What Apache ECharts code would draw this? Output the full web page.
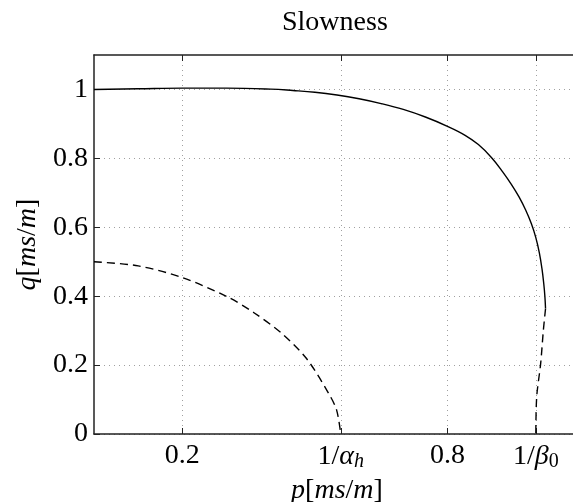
<!DOCTYPE html>
<html>
<head>
<meta charset="utf-8">
<script src="https://cdn.jsdelivr.net/npm/echarts@6/dist/echarts.min.js"></script>
<style>html,body{margin:0;padding:0;background:#fff;}#c{width:573px;height:502px;}</style>
</head>
<body>
<div id="c"></div>
<script>
// ---- data ----
const solidP = [0, 0.1, 0.2, 0.3, 0.4, 0.45, 0.5, 0.55, 0.6, 0.65, 0.7, 0.75, 0.8, 0.84, 0.87, 0.9, 0.925, 0.945, 0.962, 0.977, 0.99, 1.0, 1.008, 1.014, 1.018, 1.0205, 1.022];
const solidQ = [1.0, 1.002, 1.004, 1.004, 1.001, 0.997, 0.992, 0.984, 0.973, 0.959, 0.942, 0.920, 0.893, 0.867, 0.840, 0.802, 0.761, 0.724, 0.688, 0.650, 0.610, 0.570, 0.526, 0.479, 0.436, 0.400, 0.364];
const dashLP = [0, 0.1, 0.2, 0.302, 0.362, 0.425, 0.481, 0.531, 0.549, 0.5585];
const dashLQ = [0.5, 0.488, 0.454, 0.398, 0.352, 0.292, 0.219, 0.118, 0.07, 0];
const dashRP = [1.022, 1.017, 1.011, 1.002, 1.0];
const dashRQ = [0.364, 0.3, 0.205, 0.108, 0];
const xTickValues = [0.2, 0.5585, 0.8, 1.0];
const xTickLabels = ['0.2', '{n|1/}{i|α}{s|h}', '0.8', '{n|1/}{i|β}{t|0}'];
const yTickValues = [0, 0.2, 0.4, 0.6, 0.8, 1.0];
const yTickLabels = ['0', '0.2', '0.4', '0.6', '0.8', '1'];

const zip = (a, b) => a.map((v, i) => [v, b[i]]);
const FONT = 'Liberation Serif';
const axisCol = '#222';
const gridStyle = { color: '#a0a0a0', width: 1, type: [1, 4] };

const chart = echarts.init(document.getElementById('c'), null, { renderer: 'canvas' });
chart.setOption({
  animation: false,
  backgroundColor: '#fff',
  title: {
    text: 'Slowness', left: 277, top: 4,
    textStyle: { fontFamily: FONT, fontSize: 28, fontWeight: 'normal', color: '#000' }
  },
  grid: { left: 94, top: 55, width: 486, height: 379, containLabel: false, outerBoundsMode: 'none' },
  xAxis: [{
    type: 'value', min: 0, max: 1.1, position: 'bottom',
    name: '{i|p}{n|[}{i|ms}{n|/}{i|m}{n|]}', nameLocation: 'middle', nameGap: 33,
    nameTextStyle: { rich: {
      i: { fontFamily: FONT, fontStyle: 'italic', fontSize: 28, color: '#000' },
      n: { fontFamily: FONT, fontSize: 28, color: '#000' } } },
    axisLine: { show: true, onZero: false, lineStyle: { color: axisCol, width: 1.5 } },
    axisTick: { show: true, inside: true, length: 6, customValues: xTickValues, lineStyle: { color: axisCol } },
    splitLine: { show: true, lineStyle: gridStyle },
    axisLabel: {
      customValues: xTickValues, margin: 8, color: '#000', fontFamily: FONT, fontSize: 28,
      formatter: v => { const k = xTickValues.indexOf(v); return k >= 0 ? xTickLabels[k] : ''; },
      rich: {
        n: { fontFamily: FONT, fontSize: 28, color: '#000', lineHeight: 30 },
        i: { fontFamily: FONT, fontStyle: 'italic', fontSize: 28, color: '#000', lineHeight: 30 },
        s: { fontFamily: FONT, fontStyle: 'italic', fontSize: 20, color: '#000', lineHeight: 12, verticalAlign: 'bottom' },
        t: { fontFamily: FONT, fontSize: 20, color: '#000', lineHeight: 12, verticalAlign: 'bottom' }
      }
    }
  }, {
    type: 'value', min: 0, max: 1.1, position: 'top',
    axisLine: { show: true, onZero: false, lineStyle: { color: axisCol, width: 1.5 } },
    axisTick: { show: true, inside: true, length: 6, customValues: xTickValues, lineStyle: { color: axisCol } },
    axisLabel: { show: false }, splitLine: { show: false }
  }],
  yAxis: [{
    type: 'value', min: 0, max: 1.1, position: 'left',
    name: '{i|q}{n|[}{i|ms}{n|/}{i|m}{n|]}', nameLocation: 'middle', nameGap: 50,
    nameTextStyle: { rich: {
      i: { fontFamily: FONT, fontStyle: 'italic', fontSize: 28, color: '#000' },
      n: { fontFamily: FONT, fontSize: 28, color: '#000' } } },
    axisLine: { show: true, onZero: false, lineStyle: { color: axisCol, width: 1.5 } },
    axisTick: { show: true, inside: true, length: 6, customValues: yTickValues, lineStyle: { color: axisCol } },
    splitLine: { show: true, lineStyle: gridStyle },
    axisLabel: {
      customValues: yTickValues, margin: 6, color: '#000', fontFamily: FONT, fontSize: 28,
      formatter: v => { const k = yTickValues.findIndex(t => Math.abs(t - v) < 1e-9); return k >= 0 ? yTickLabels[k] : ''; }
    }
  }, {
    type: 'value', min: 0, max: 1.1, position: 'right',
    axisLine: { show: true, onZero: false, lineStyle: { color: axisCol, width: 1.5 } },
    axisTick: { show: true, inside: true, length: 6, customValues: yTickValues, lineStyle: { color: axisCol } },
    axisLabel: { show: false }, splitLine: { show: false }
  }],
  series: [
    { type: 'line', data: zip(solidP, solidQ), showSymbol: false, smooth: 0.4, lineStyle: { color: '#000', width: 1.4 } },
    { type: 'line', data: zip(dashLP, dashLQ), showSymbol: false, smooth: 0.3, lineStyle: { color: '#000', width: 1.4, type: [8, 5] } },
    { type: 'line', data: zip(dashRP, dashRQ), showSymbol: false, smooth: 0.3, lineStyle: { color: '#000', width: 1.4, type: [8, 5] } }
  ]
});
</script>
</body>
</html>
